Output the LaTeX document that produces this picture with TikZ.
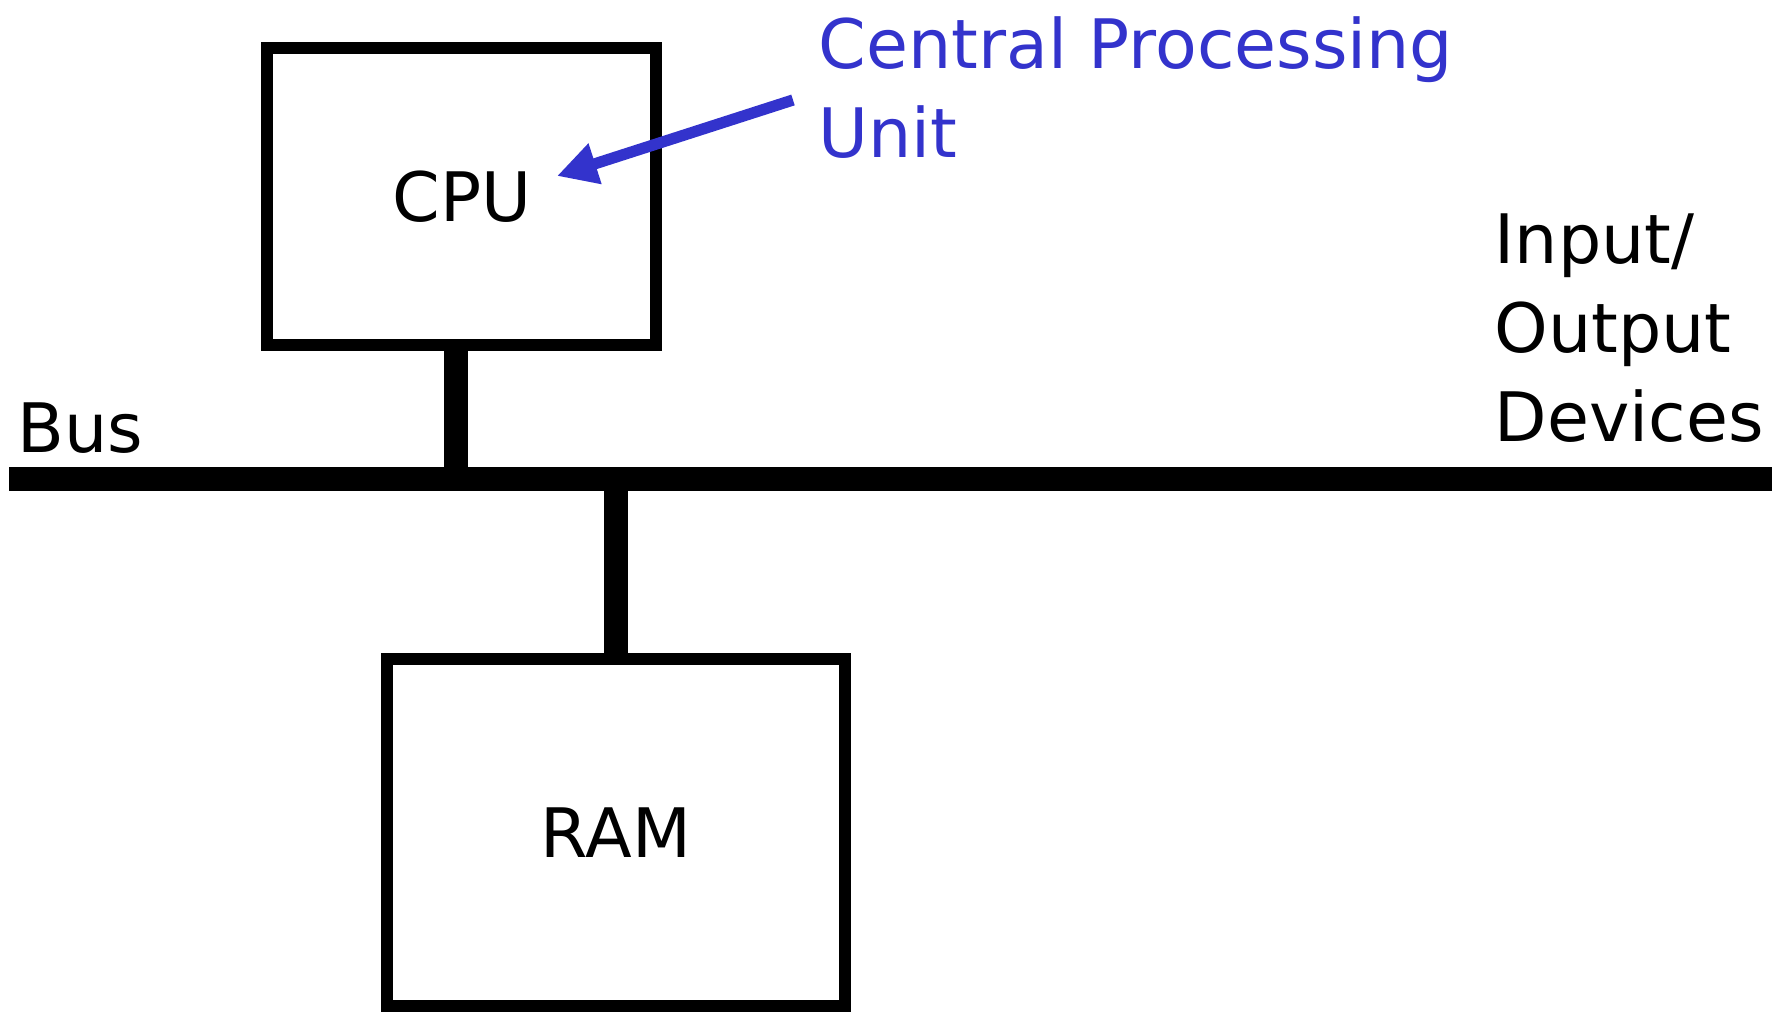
\documentclass[tikz,border=0pt]{standalone}
\usepackage{fontspec}
\setmainfont{DejaVu Sans}
\usetikzlibrary{arrows.meta}
\definecolor{note}{RGB}{51,51,204}

\begin{document}
\begin{tikzpicture}[x=0.01cm,y=-0.01cm,
  box/.style={draw,line width=3.4pt,inner sep=0,font=\fontsize{19.4}{25.3}\selectfont},
  lab/.style={inner sep=0,align=left,font=\fontsize{19.4}{25.3}\selectfont},
  bus/.style={line width=6.8pt},
  arr/.style={draw=note,line width=3.2pt,-{Triangle[length=0.4cm,width=0.4cm]}}]
 \useasboundingbox (0,0) rectangle (1781,1012);
 % boxes
 \node[box,minimum width=3.885cm,minimum height=2.965cm] (cpu) at (461.75,196.75) {CPU};
 \node[box,minimum width=4.58cm,minimum height=3.47cm] (ram) at (616,832.5) {RAM};
 % bus and stems
 \coordinate (busw) at (9,479);
 \coordinate (buse) at (1772,479);
 \draw[bus] (busw) -- (buse);
 \draw[bus] ([xshift=-0.0575cm]cpu.south) -- ([xshift=-0.0575cm]cpu.south |- busw);
 \draw[bus] (ram.north) -- (ram.north |- busw);
 % labels
 \node[lab,anchor=base west] (busl) at (17,452) {Bus};
 \node[lab,anchor=north west] (io) at (1494,213) {Input/\\Output\\Devices};
 \node[lab,anchor=north west,text=note] (cpul) at (818,16) {Central Processing\\Unit};
 \coordinate (tail) at (793,100);
 \coordinate (tip) at (557,176);
 \draw[arr] (tail) -- (tip);
\end{tikzpicture}
\end{document}
